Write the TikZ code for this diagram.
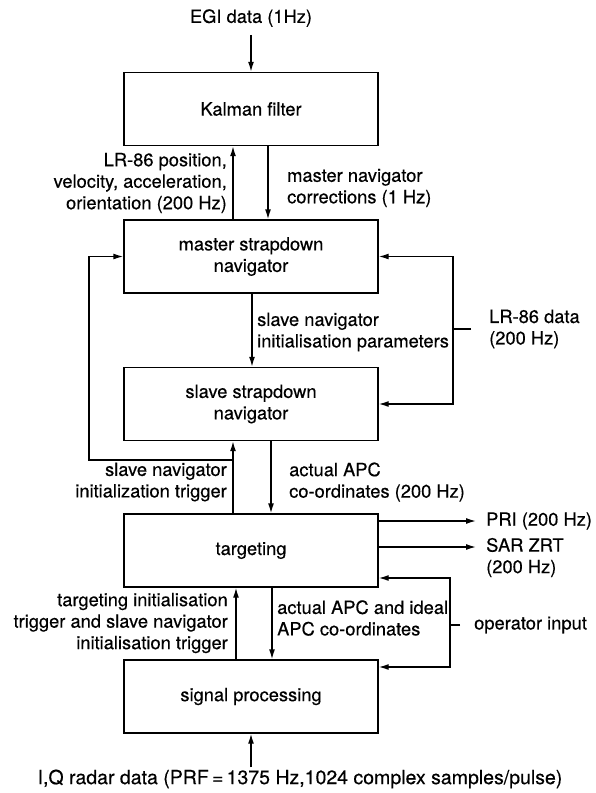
\documentclass[tikz,border=0pt]{standalone}
\usepackage{fontspec}
\setmainfont{TeX Gyre Heros}[FakeBold=0.4]
\usetikzlibrary{arrows.meta}
\begin{document}
\begin{tikzpicture}[x=1pt,y=-1pt,
  every node/.style={font=\fontsize{18.3}{21.5}\selectfont},
  blk/.style={draw, line width=1.4pt, minimum width=254pt, minimum height=73pt, align=center, inner sep=0pt},
  lbl/.style={inner sep=0pt},
  conn/.style={line width=1.4pt},
  arr/.style={conn, -{Latex[length=10pt,width=6pt]}}]
\useasboundingbox (0,0) rectangle (595,793);
\node[blk] (kal) at (251,109) {Kalman filter};
\node[blk] (mas) at (251,256.5) {master strapdown\\navigator};
\node[blk] (sla) at (251,404) {slave strapdown\\navigator};
\node[blk] (tar) at (251,550.5) {targeting};
\node[blk] (sig) at (251,696.5) {signal processing};

\node[lbl] (egi) at (251,18) {EGI data (1Hz)};
\draw[arr, shorten <=8pt] (egi.south) -- (kal.north);

\draw[arr] ([xshift=-18pt]mas.north) -- ([xshift=-18pt]kal.south);
\draw[arr] ([xshift=17pt]kal.south) -- ([xshift=17pt]mas.north);
\node[lbl, anchor=east, align=right] (l1) at (227,183) {LR-86 position,\\velocity, acceleration,\\orientation (200 Hz)};
\node[lbl, anchor=west, align=left] (l2) at (287,188) {master navigator\\corrections (1 Hz)};

\draw[arr] ([xshift=1pt]mas.south) -- ([xshift=1pt]sla.north);
\node[lbl, anchor=west, align=left] (l3) at (257,332) {slave navigator\\initialisation parameters};

\coordinate (lrj) at (453,329);
\coordinate (lre) at (471,329);
\draw[conn] (lre) -- (lrj);
\draw[arr] (lrj) |- (mas.east);
\draw[arr] (lrj) |- (sla.east);
\node[lbl, anchor=west, align=left] (l4) at (489,329) {LR-86 data\\(200 Hz)};

\coordinate (tj) at (233,460);
\coordinate (tl) at (89,460);
\draw[arr] ([xshift=-18pt]tar.north) -- ([xshift=-18pt]sla.south);
\draw[arr] (tj) -- (tl) |- (mas.west);
\node[lbl, anchor=east, align=right] (l5) at (227,482) {slave navigator\\initialization trigger};
\draw[arr] ([xshift=20pt]sla.south) -- ([xshift=20pt]tar.north);
\node[lbl, anchor=west, align=left] (l6) at (289,482) {actual APC\\co-ordinates (200 Hz)};

\coordinate (prit) at (476,521);
\coordinate (sart) at (476,547);
\draw[arr] (tar.east |- prit) -- (prit);
\draw[arr] (tar.east |- sart) -- (sart);
\node[lbl, anchor=west] (pri) at (486,521) {PRI (200 Hz)};
\node[lbl, anchor=west, align=left] (sar) at (486,557.5) {SAR ZRT\\(200 Hz)};

\coordinate (oj) at (450,625);
\coordinate (oe) at (460,625);
\draw[conn] (oe) -- (oj);
\draw[arr] (oj) |- ([yshift=-27.5pt]tar.east);
\draw[arr] (oj) |- ([yshift=29.5pt]sig.east);
\node[lbl, anchor=west] (op) at (474,625) {operator input};

\draw[arr] ([xshift=-15pt]sig.north) -- ([xshift=-15pt]tar.south);
\draw[arr] ([xshift=21pt]tar.south) -- ([xshift=21pt]sig.north);
\node[lbl, anchor=east, align=right] (l7) at (228,623) {targeting initialisation\\trigger and slave navigator\\initialisation trigger};
\node[lbl, anchor=west, align=left] (l8) at (277,618) {actual APC and ideal\\APC co-ordinates};

\node[lbl, font=\fontsize{19.5}{22}\selectfont] (rad) at (300,779) {I,Q radar data (PRF\,=\,1375 Hz,1024 complex samples/pulse)};
\draw[arr, shorten <=2pt] (rad.north -| sig.south) -- (sig.south);
\end{tikzpicture}
\end{document}
